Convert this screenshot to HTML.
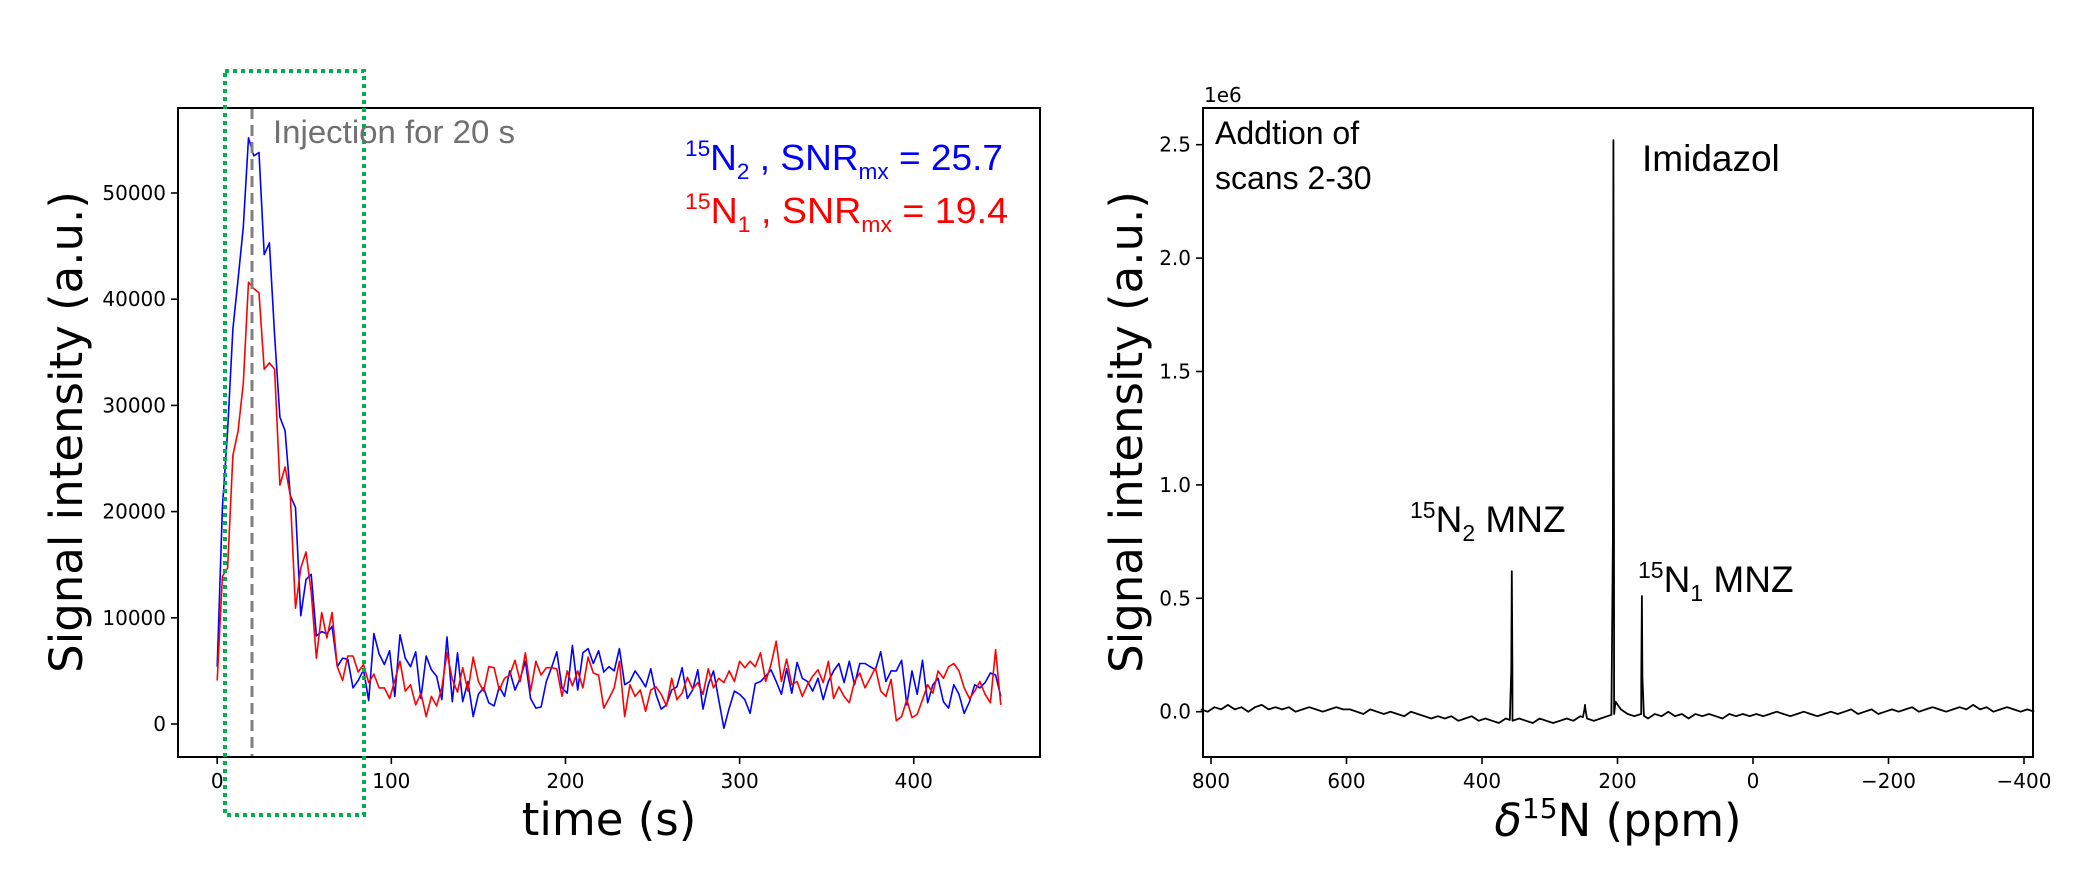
<!DOCTYPE html>
<html>
<head>
<meta charset="utf-8">
<style>
  html,body{margin:0;padding:0;background:#fff;}
  svg{display:block;}
  .tick{font-family:"DejaVu Sans",sans-serif;font-size:20px;fill:#000;}
  .axlabel{font-family:"DejaVu Sans",sans-serif;font-size:45px;fill:#000;}
  .ann{font-family:"Liberation Sans",sans-serif;fill:#000;}
</style>
</head>
<body>
<svg id="fig" width="2091" height="885" viewBox="0 0 2091 885" xmlns="http://www.w3.org/2000/svg">
  <rect x="0" y="0" width="2091" height="885" fill="#fff"/>
  <g id="left"></g>
  <g id="right"></g>
</svg>
<script>
// ---------- Left chart data ----------
const timeStep = 3; // seconds between scans
const blueSeries = [
  5.4,20.4,27.6,37.2,41.9,46.8,55.2,53.5,53.8,44.2,45.3,36.6,28.9,27.6,21.5,20.4,10.2,13.6,14.1,8.3,
  8.7,8.5,9.2,5.4,6.2,6.1,3.4,4.1,5.1,2.2,8.5,6.6,5.6,6.9,2.6,
  8.4,6.2,5.4,6.8,2.4,6.4,5.1,4.5,2.3,8.2,
  2.1,6.7,2.1,4.0,0.7,2.8,3.4,2.0,1.7,
  3.5,2.6,5.0,3.2,4.3,5.9,2.4,1.5,
  1.6,4.0,5.3,6.8,3.4,2.9,7.4,3.2,6.7,
  7.1,5.7,6.9,4.9,5.4,5.0,7.1,3.7,4.0,
  5.0,4.3,3.5,5.2,2.8,1.4,1.8,3.2,3.5,
  5.3,2.4,3.2,5.1,1.4,3.7,5.0,2.3,-0.4,1.5,
  3.1,2.8,2.3,1.0,3.8,4.0,4.5,5.1,4.0,2.8,
  5.2,2.9,5.8,4.3,4.0,3.1,4.3,2.3,4.0,5.0,
  5.7,3.9,5.9,3.7,5.7,5.7,5.4,5.1,6.8,4.0,
  5.0,5.0,6.0,1.8,5.0,2.8,6.0,2.0,3.7,4.3,
  2.1,1.5,3.7,2.8,1.0,2.1,3.7,3.4,3.9,4.8,4.6,2.6
]; // thousands a.u.
const redSeries = [
  4.1,13.9,14.7,25.3,27.6,32.1,41.6,41.0,40.6,33.4,34.0,33.4,22.5,24.2,21.5,10.9,14.7,16.2,12.4,6.2,
  10.5,8.1,10.5,5.4,4.1,6.4,6.4,4.9,5.6,3.9,4.7,3.4,3.4,2.4,4.1,
  5.9,3.1,3.7,1.8,2.9,0.7,2.6,1.7,3.4,6.7,
  4.2,3.0,
  5.3,3.1,6.3,4.0,3.1,5.4,5.3,3.2,4.3,4.6,
  6.0,4.0,6.7,3.1,5.9,4.6,5.3,5.3,5.2,2.6,
  5.0,3.6,
  5.0,3.4,6.3,4.8,4.6,1.5,2.4,3.4,5.9,0.7,
  3.7,2.6,3.2,1.2,3.2,3.5,2.8,1.7,4.3,2.3,
  2.9,4.4,3.3,
  3.9,2.8,5.2,3.4,4.3,3.9,5.0,4.0,5.9,5.3,
  5.9,5.4,6.7,4.0,5.6,7.8,4.0,6.1,3.7,4.0,
  2.6,3.7,4.5,5.1,3.9,5.9,2.4,3.5,2.6,2.0,
  4.0,4.8,3.4,4.3,5.3,3.1,2.6,4.2,0.3,
  0.7,2.3,0.6,0.9,2.3,3.7,2.9,5.0,4.3,5.4,5.7,5.0,3.4,2.4,3.1,4.0,2.8,2.0,7.0,1.8
];
const leftXTicks = [0,100,200,300,400];
const leftYTicks = [0,10000,20000,30000,40000,50000];
const injectionTime = 20;

// ---------- Right chart data ----------
const baseStartPpm = 815;
const baseStepPpm = -10;
const baselineValues = [
  0.01,0.00,0.02,0.01,0.03,0.01,0.02,0.00,0.02,0.03,0.01,0.02,
  0.01,0.02,0.00,0.01,0.02,0.01,0.00,0.01,0.02,0.01,
  0.01,0.00,-0.01,0.01,0.00,-0.01,0.00,-0.01,-0.02,0.00,
  -0.01,-0.02,-0.03,-0.02,-0.03,-0.02,-0.04,-0.03,-0.02,-0.04,
  -0.03,-0.04,-0.05,-0.03,-0.04,-0.03,-0.04,-0.05,-0.03,-0.04,
  -0.05,-0.04,-0.03,-0.04,-0.02,-0.03,-0.04,-0.03,-0.02,-0.01,
  0.01,-0.01,-0.02,-0.01,-0.03,-0.01,-0.02,0.00,-0.02,-0.01,
  -0.03,-0.01,-0.02,-0.01,-0.02,-0.03,-0.01,-0.02,-0.01,-0.02,
  -0.01,-0.02,-0.01,0.00,-0.01,-0.02,-0.01,0.00,-0.01,-0.02,
  -0.01,0.00,-0.01,0.00,0.01,-0.01,0.00,0.01,-0.01,0.00,
  0.01,0.00,0.01,0.02,0.00,0.01,0.02,0.01,0.00,0.01,
  0.02,0.01,0.03,0.01,0.02,0.00,0.01,0.02,0.01,0.00,
  0.01,0.00
]; // 1e6 a.u.
const peakPpm = [356,206,164,248];
const peakHeight = [0.62,2.52,0.51,0.03];
const rightXTicks = [800,600,400,200,0,-200,-400];
const rightYTicks = [0.0,0.5,1.0,1.5,2.0,2.5];

const NS = "http://www.w3.org/2000/svg";
function mk(parent, tag, attrs, text){
  const e = document.createElementNS(NS, tag);
  for (const k in attrs) e.setAttribute(k, attrs[k]);
  if (text !== undefined) e.textContent = text;
  parent.appendChild(e);
  return e;
}

// ---------- Left chart ----------
(function(){
  const g = document.getElementById('left');
  const L=178, R=1040, T=108, B=757;
  const X = t => L + (t + 22.5) * (R - L) / 495;
  const Y = v => 724 - v * 0.01062;
  function series(arr, color, name){
    const pts = arr.map((v,i)=> X(i*timeStep).toFixed(1)+","+Y(v*1000).toFixed(1)).join(" ");
    const p = mk(g,'polyline',{points:pts,fill:'none',stroke:color,'stroke-width':1.6,'stroke-linejoin':'round'});
    
    
  }
  series(blueSeries,'#0000ff','n2-series-line');
  series(redSeries,'#ff0000','n1-series-line');
  const inj = mk(g,'line',{x1:X(injectionTime),x2:X(injectionTime),y1:T,y2:B,stroke:'#808080','stroke-width':3,'stroke-dasharray':'11 6'});
  
  
  const fr = mk(g,'rect',{x:L,y:T,width:R-L,height:B-T,fill:'none',stroke:'#000','stroke-width':2});
  
  
  leftXTicks.forEach(t=>{
    mk(g,'line',{x1:X(t),x2:X(t),y1:B,y2:B+7,stroke:'#000','stroke-width':1.6});
    const tx = mk(g,'text',{x:X(t),y:788,'text-anchor':'middle',class:'tick'},String(t));
    
    
  });
  leftYTicks.forEach(v=>{
    mk(g,'line',{x1:L-7,x2:L,y1:Y(v),y2:Y(v),stroke:'#000','stroke-width':1.6});
    const ty = mk(g,'text',{x:L-12,y:Y(v)+7,'text-anchor':'end',class:'tick'},String(v));
    
    
  });
  const gb = mk(g,'rect',{x:225,y:71,width:139,height:744,fill:'none',stroke:'#00b050','stroke-width':4,'stroke-dasharray':'4 4'});
  
  
})();

// ---------- Right chart ----------
(function(){
  const g = document.getElementById('right');
  const L=1203, R=2033, T=108, B=757;
  const X = p => 1753 - p * 0.6775;
  const Y = v => 711.7 - v * 226.8;
  const pts = [];
  baselineValues.forEach((v,i)=> pts.push({p: baseStartPpm + i*baseStepPpm, v}));
  function baseAt(p){
    const f = (baseStartPpm - p) / -baseStepPpm;
    const i = Math.max(0, Math.min(baselineValues.length-2, Math.floor(f)));
    const r = f - i;
    return baselineValues[i]*(1-r) + baselineValues[i+1]*r;
  }
  peakPpm.forEach((pp,k)=>{
    const h = peakHeight[k];
    pts.push({p:pp+3, v:baseAt(pp+3)});
    pts.push({p:pp+0.8, v:h*0.3});
    pts.push({p:pp, v:h});
    pts.push({p:pp-0.8, v:h*0.3});
    pts.push({p:pp-3, v:baseAt(pp-3)+ (h>1 ? 0.05 : 0)});
  });
  pts.sort((a,b)=>b.p-a.p);
  const line = mk(g,'polyline',{points:pts.map(o=>X(o.p).toFixed(1)+","+Y(o.v).toFixed(1)).join(" "),fill:'none',stroke:'#000','stroke-width':1.8,'stroke-linejoin':'round'});
  
  
  const fr = mk(g,'rect',{x:L,y:T,width:R-L,height:B-T,fill:'none',stroke:'#000','stroke-width':2});
  
  
  rightXTicks.forEach(p=>{
    mk(g,'line',{x1:X(p),x2:X(p),y1:B,y2:B+7,stroke:'#000','stroke-width':1.6});
    const lbl = p<0 ? '\u2212'+Math.abs(p) : String(p);
    const tx = mk(g,'text',{x:X(p),y:788,'text-anchor':'middle',class:'tick'},lbl);
    
    
  });
  rightYTicks.forEach(v=>{
    mk(g,'line',{x1:L-7,x2:L,y1:Y(v),y2:Y(v),stroke:'#000','stroke-width':1.6});
    const ty = mk(g,'text',{x:L-12,y:Y(v)+7,'text-anchor':'end',class:'tick'},v.toFixed(1));
    
    
  });
})();
</script>
<script>
(function(){
  const s = document.getElementById('fig');
  s.insertAdjacentHTML('beforeend', `
  <text class="axlabel" transform="translate(82,432) rotate(-90)" text-anchor="middle">Signal intensity (a.u.)</text>
  <text class="axlabel" x="609" y="835" text-anchor="middle">time (s)</text>
  <text class="ann" x="273" y="143" font-size="32" textLength="242" lengthAdjust="spacingAndGlyphs" style="fill:#707070">Injection for 20 s</text>
  <text class="ann" x="685" y="170" font-size="36" textLength="318" lengthAdjust="spacingAndGlyphs" style="fill:#0000ff"><tspan font-size="22" dy="-14">15</tspan><tspan dy="14">N</tspan><tspan font-size="22" dy="9">2</tspan><tspan dy="-9"> , SNR</tspan><tspan font-size="22" dy="9">mx</tspan><tspan dy="-9"> = 25.7</tspan></text>
  <text class="ann" x="685" y="223" font-size="36" textLength="323" lengthAdjust="spacingAndGlyphs" style="fill:#ff0000"><tspan font-size="22" dy="-14">15</tspan><tspan dy="14">N</tspan><tspan font-size="22" dy="9">1</tspan><tspan dy="-9"> , SNR</tspan><tspan font-size="22" dy="9">mx</tspan><tspan dy="-9"> = 19.4</tspan></text>
  <text class="axlabel" transform="translate(1142,432) rotate(-90)" text-anchor="middle">Signal intensity (a.u.)</text>
  <text class="axlabel" x="1618" y="836" text-anchor="middle"><tspan font-style="italic">δ</tspan><tspan font-size="28" dy="-18">15</tspan><tspan dy="18">N (ppm)</tspan></text>
  <text class="tick" x="1204" y="102">1e6</text>
  <text class="ann" x="1215" y="144" font-size="32">Addtion of</text>
  <text class="ann" x="1215" y="189" font-size="32">scans 2-30</text>
  <text class="ann" x="1642" y="171" font-size="37">Imidazol</text>
  <text class="ann" x="1410" y="532" font-size="37"><tspan font-size="23" dy="-14">15</tspan><tspan dy="14">N</tspan><tspan font-size="23" dy="9">2</tspan><tspan dy="-9"> MNZ</tspan></text>
  <text class="ann" x="1638" y="592" font-size="37"><tspan font-size="23" dy="-14">15</tspan><tspan dy="14">N</tspan><tspan font-size="23" dy="9">1</tspan><tspan dy="-9"> MNZ</tspan></text>
  `);
})();
</script>
</body>
</html>
